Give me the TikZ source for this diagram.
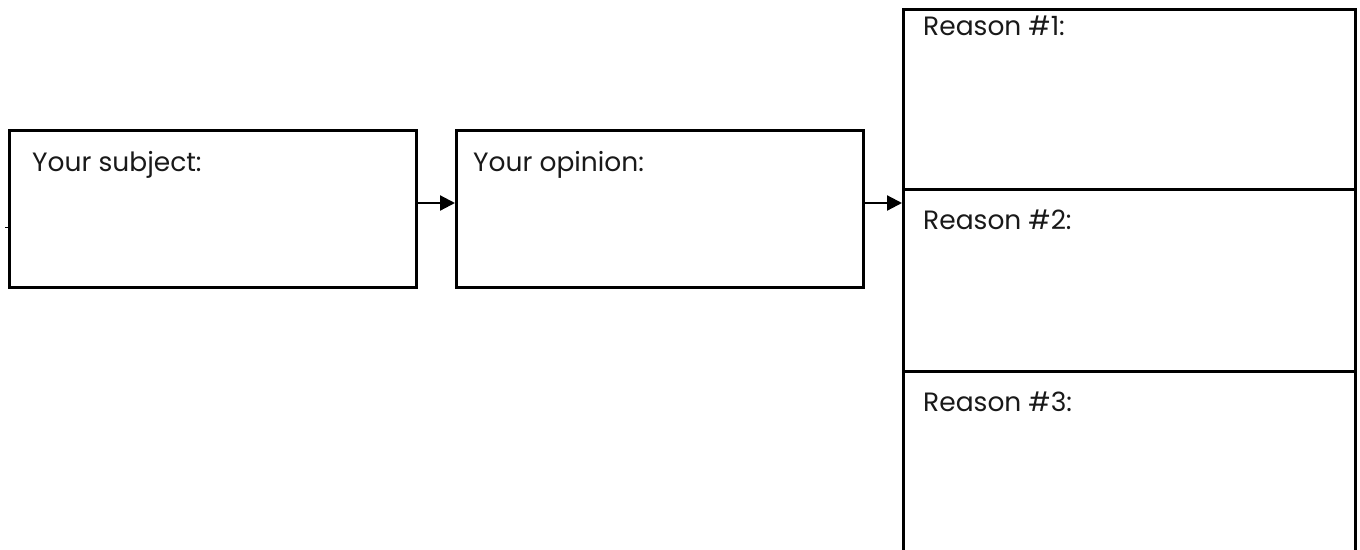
\documentclass[tikz,border=0pt]{standalone}
\usepackage{fontspec}
\setmainfont{Poppins}
\usetikzlibrary{arrows.meta}
\tikzset{
  box/.style={draw=black, line width=2.5pt, inner sep=0pt, anchor=north west, rectangle},
  lbl/.style={anchor=base west, inner sep=0pt, font=\fontsize{26.5}{30}\selectfont, text=black!90},
  arr/.style={line width=2.2pt, -{Triangle[length=15pt,width=15pt]}}
}
\begin{document}
\begin{tikzpicture}[x=1pt,y=-1pt]
\useasboundingbox (0,0) rectangle (1360,549);
\begin{scope}
\clip (0,0) rectangle (1360,549);
\node[box, minimum width=407pt, minimum height=157pt] (subj) at (8,129) {};
\node[box, minimum width=407pt, minimum height=157pt] (opin) at (455,129) {};
\node[box, minimum width=452pt, minimum height=180pt] (r1) at (902,8) {};
\node[box, minimum width=452pt, minimum height=182pt] (r2) at (902,188) {};
\node[box, minimum width=452pt, minimum height=200pt] (r3) at (902,370) {};
\end{scope}
\node[lbl] (subjt) at (32,171) {Your subject:};
\node[lbl] (opint) at (473,171) {Your opinion:};
\node[lbl] (r1t) at (923,35) {Reason \#1:};
\node[lbl] (r2t) at (923,229) {Reason \#2:};
\node[lbl] (r3t) at (923,411) {Reason \#3:};
\coordinate (ay) at (0,203);
\coordinate (tick) at (5,227);
\draw[line width=1pt] (tick) -- (subj.west |- tick);
\draw[arr] (subj.east |- ay) -- (opin.west |- ay);
\draw[arr] (opin.east |- ay) -- (r2.west |- ay);
\end{tikzpicture}
\end{document}
